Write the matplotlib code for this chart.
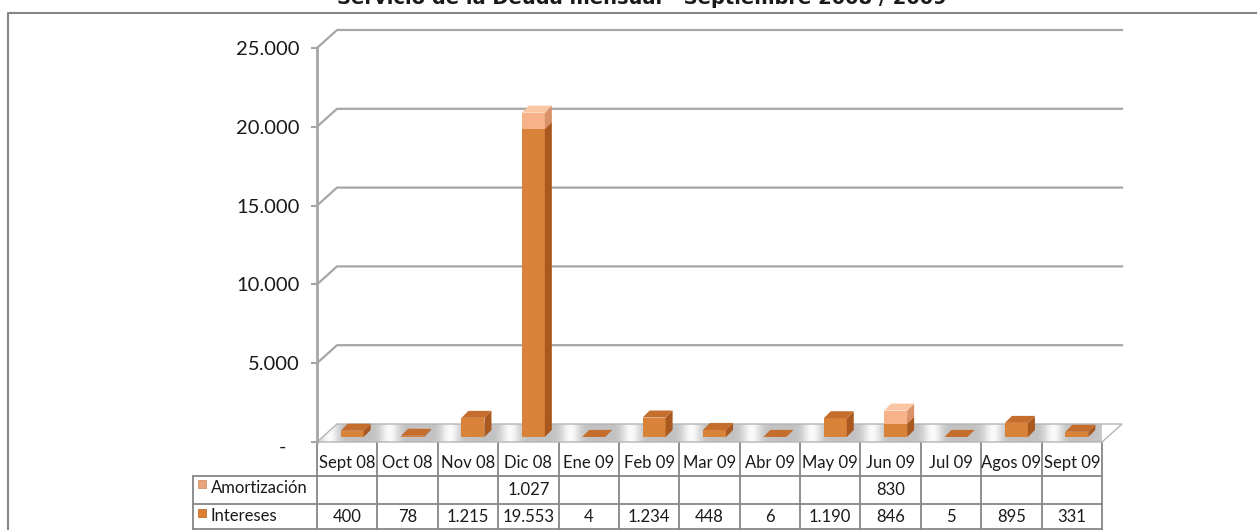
import numpy as np
import matplotlib.pyplot as plt
from matplotlib.patches import Polygon, Rectangle
from matplotlib.transforms import ScaledTranslation

months = ['Sept 08', 'Oct 08', 'Nov 08', 'Dic 08', 'Ene 09', 'Feb 09', 'Mar 09',
          'Abr 09', 'May 09', 'Jun 09', 'Jul 09', 'Agos 09', 'Sept 09']
intereses = [400, 78, 1215, 19553, 4, 1234, 448, 6, 1190, 846, 5, 895, 331]
amortizacion = [None, None, None, 1027, None, None, None, None, None, 830, None, None, None]
yticks = [0, 5000, 10000, 15000, 20000, 25000]
title = 'Servicio de la Deuda mensual - Septiembre 2008 / 2009'

W, H = 1257, 530
GRID = '#a6a6a6'
LINE = '#868686'


def fmt(v):
    return '' if v is None else f'{v:,}'.replace(',', '.')


fig = plt.figure(figsize=(W / 100, H / 100), dpi=100)

# overlay in pixel coords for frame, title and data table
bg = fig.add_axes([0, 0, 1, 1])
bg.set_xlim(0, W)
bg.set_ylim(H, 0)
bg.axis('off')

# plot area (front plane): x 317..1102 px, y 442 (0) .. 48 (25000) px
x0, x1, yb, yt = 317, 1102, 442, 48
ax = fig.add_axes([x0 / W, (H - yb) / H, (x1 - x0) / W, (yb - yt) / H])
ax.patch.set_alpha(0)
n = len(months)
ux = n / (x1 - x0)
uy = 25000 / (yb - yt)

DX, DY = 20 * ux, 18 * uy

for s in ['top', 'right', 'bottom']:
    ax.spines[s].set_visible(False)
ax.spines['left'].set_color(GRID)
ax.spines['left'].set_linewidth(2)
ax.set_xticks([])
ax.set_yticks(yticks)
ax.set_yticklabels([fmt(t) if t else '-' for t in yticks],
                   fontfamily='Lato', fontsize=14.5, color='#1a1a1a')
ax.tick_params(axis='y', length=4.5, width=1.5, color=GRID, pad=8)
# excel puts the zero dash a little further left and lower
zl = ax.yaxis.get_major_ticks()[0].label1
zl.set_transform(zl.get_transform() + ScaledTranslation(-0.13, -0.04, fig.dpi_scale_trans))

# back wall gridlines with 3D offset
for v in yticks[1:]:
    ax.plot([-0.5, -0.5 + DX, n - 0.5 + DX], [v, v + DY, v + DY],
            color=GRID, lw=1.6, clip_on=False, zorder=1)

# floor with striped shading
floor = Polygon([(-0.5, 0), (n - 0.5, 0), (n - 0.5 + DX, DY), (-0.5 + DX, DY)],
                closed=True, facecolor='none', edgecolor='#b5b5b5', lw=1,
                clip_on=False, zorder=2.5)
ax.add_patch(floor)
xs = np.linspace(-0.5, n - 0.5 + DX, 1200)
shade = 0.76 + 0.22 * np.cos(np.pi * (xs + 0.3)) ** 8
img = ax.imshow(shade[None, :], cmap='gray', vmin=0, vmax=1, aspect='auto',
                extent=[-0.5, n - 0.5 + DX, 0, DY], zorder=2)
img.set_clip_on(True)
img.set_clip_box(None)
img.set_clip_path(floor)
ax.set_xlim(-0.5, n - 0.5)
ax.set_ylim(0, 25000)

# bars: front faces via ax.bar, side and top faces from the bar geometry
base = 5 * uy
bx = np.arange(n) + 5 * ux
bw = 23 * ux
ddx, ddy = 7 * ux, 7 * uy
amort = [0 if a is None else a for a in amortizacion]

ints = ax.bar(bx, intereses, bw, bottom=base, color='#d9823a', lw=0, zorder=3)
ams = ax.bar(bx, amort, bw, bottom=base + np.array(intereses), color='#f8b28a',
             lw=0, zorder=4)


def faces(bars, side_c, top_c, z):
    for b in bars:
        h = b.get_height()
        if h <= 0 and z > 3:
            continue
        xl, xr = b.get_x(), b.get_x() + b.get_width()
        y0, y1 = b.get_y(), b.get_y() + h
        ax.add_patch(Polygon([(xr, y0), (xr + ddx, y0 + ddy), (xr + ddx, y1 + ddy), (xr, y1)],
                             facecolor=side_c, lw=0, zorder=z, clip_on=False))
        ax.add_patch(Polygon([(xl, y1), (xr, y1), (xr + ddx, y1 + ddy), (xl + ddx, y1 + ddy)],
                             facecolor=top_c, lw=0, zorder=z, clip_on=False))


faces(ints, '#a9591f', '#c46d2c', 3)
faces(ams, '#d9926a', '#fbc6a4', 4)

# frame and title (the title is clipped at the top, as in the source image)
bg.plot([8, 8, W], [H, 13, 13], color=LINE, lw=1.5)
bg.text(642, 4, title, ha='center', va='baseline', fontsize=14,
        fontweight='bold', color='#1a1a1a')

# data table below the floor
cw = (x1 - x0) / n
r0, r1, r2, r3 = yb, 476, 504, 530
lab_x = 193
for k in range(n + 1):
    bg.plot([x0 + k * cw] * 2, [r0, r3], color=LINE, lw=1.3)
bg.plot([lab_x, lab_x], [r1, r3], color=LINE, lw=1.3)
for r in (r1, r2, r3 - 1):
    bg.plot([lab_x, x1], [r, r], color=LINE, lw=1.3)

tkw = dict(fontfamily='Lato', fontsize=12, color='#1a1a1a', va='center')
for k, m in enumerate(months):
    cx = x0 + (k + 0.5) * cw
    bg.text(cx, 463, m, ha='center', **tkw)
    bg.text(cx, 490, fmt(amortizacion[k]), ha='center', **tkw)
    bg.text(cx, 517, fmt(intereses[k]), ha='center', **tkw)

bg.add_patch(Rectangle((198, 480), 8, 8, facecolor='#e8a47c', edgecolor='#c8845c', lw=0.5))
bg.add_patch(Rectangle((198, 509), 8, 8, facecolor='#dd7e30', edgecolor='#b0601f', lw=0.5))
bg.text(211, 488, 'Amortización', ha='left', **tkw)
bg.text(211, 516, 'Intereses', ha='left', **tkw)

fig.savefig('out.png', dpi=100)
